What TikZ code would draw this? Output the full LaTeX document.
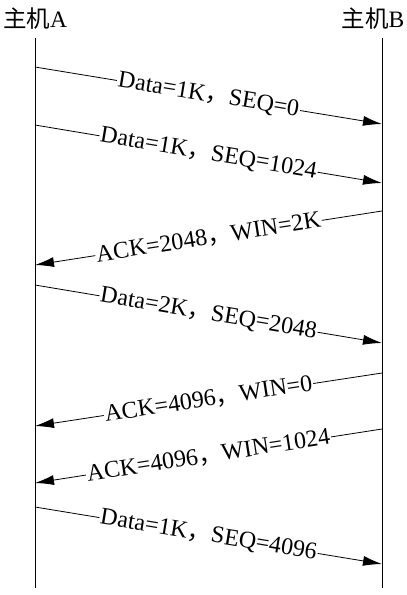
\documentclass[tikz,border=0pt]{standalone}
\usepackage{fontspec}
\setmainfont{Liberation Serif}
\newfontfamily\cjk{Noto Sans CJK SC}
\usetikzlibrary{arrows.meta}
\tikzset{
  life/.style={line width=0.9pt},
  msg/.style={line width=0.8pt,-{Latex[length=19pt,width=10pt]}},
  lbl/.style={fill=white,sloped,midway,inner sep=1pt,font=\fontsize{24}{24}\selectfont},
  host/.style={inner sep=0pt,font=\fontsize{23.5}{23.5}\selectfont}
}
\newcommand{\cm}{{\cjk ，}}
\begin{document}
\begin{tikzpicture}[x=1pt,y=-1pt]
\useasboundingbox (0,0) rectangle (407,595);
\node[host] (hA) at (35,19) {{\cjk 主机}A};
\node[host] (hB) at (373,19) {{\cjk 主机}B};
\coordinate (a0) at (35,38);
\coordinate (a1) at (35,588);
\coordinate (b0) at (382,38);
\coordinate (b1) at (382,588);
\draw[life] (a0) -- (a1);
\draw[life] (b0) -- (b1);
% messages
\coordinate (m1s) at (35,67);   \coordinate (m1e) at (382,124);
\coordinate (m2s) at (35,125);  \coordinate (m2e) at (382,183);
\coordinate (m3s) at (382,211); \coordinate (m3e) at (35,265);
\coordinate (m4s) at (35,285);  \coordinate (m4e) at (382,343);
\coordinate (m5s) at (382,373); \coordinate (m5e) at (35,426);
\coordinate (m6s) at (382,429); \coordinate (m6e) at (35,483);
\coordinate (m7s) at (35,507);  \coordinate (m7e) at (382,564);
\draw[msg] (m1s) -- node[lbl] (l1) {Data=1K\cm SEQ=0} (m1e);
\draw[msg] (m2s) -- node[lbl] (l2) {Data=1K\cm SEQ=1024} (m2e);
\draw[msg] (m3s) -- node[lbl] (l3) {ACK=2048\cm WIN=2K} (m3e);
\draw[msg] (m4s) -- node[lbl] (l4) {Data=2K\cm SEQ=2048} (m4e);
\draw[msg] (m5s) -- node[lbl] (l5) {ACK=4096\cm WIN=0} (m5e);
\draw[msg] (m6s) -- node[lbl] (l6) {ACK=4096\cm WIN=1024} (m6e);
\draw[msg] (m7s) -- node[lbl] (l7) {Data=1K\cm SEQ=4096} (m7e);
\end{tikzpicture}
\end{document}
